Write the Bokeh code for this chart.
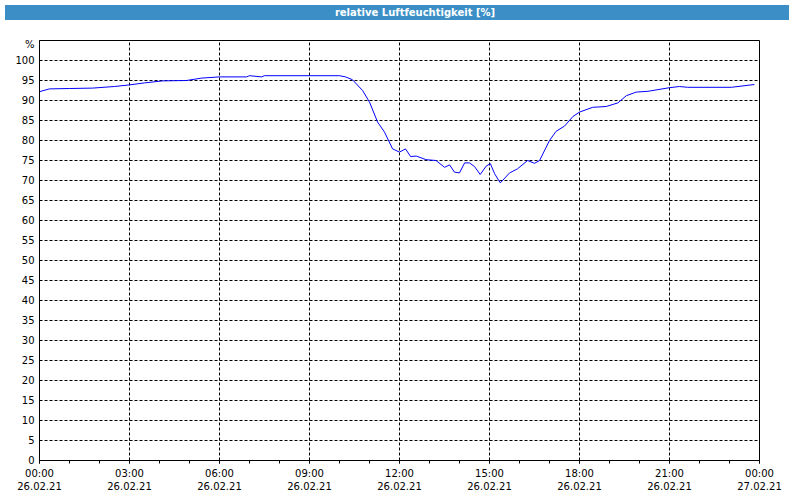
from bokeh.plotting import figure
from bokeh.models import FixedTicker, Div
from bokeh.layouts import column
from bokeh.embed import file_html
from bokeh.resources import INLINE

title_text = "relative Luftfeuchtigkeit [%]"

hours = [0.0, 0.33, 1.0, 1.77, 2.5, 3.0, 3.5, 4.1, 4.9, 5.4, 6.0, 6.9, 7.0, 7.4, 7.5,
         10.0, 10.2, 10.43, 10.77, 11.0, 11.27, 11.5, 11.77, 12.0, 12.2, 12.37, 12.56,
         12.89, 13.22, 13.5, 13.67, 13.83, 14.0, 14.17, 14.33, 14.5, 14.69, 14.89, 15.03,
         15.17, 15.36, 15.67, 15.93, 16.27, 16.5, 16.67, 17.0, 17.22, 17.5, 17.78, 18.0,
         18.44, 18.89, 19.28, 19.56, 19.89, 20.28, 21.0, 21.33, 21.6, 23.06, 23.83]
humidity = [92.2, 92.9, 93.0, 93.1, 93.5, 93.9, 94.4, 94.9, 95.0, 95.6, 95.9, 95.9, 96.2, 95.9, 96.2,
            96.2, 95.9, 95.2, 92.5, 89.6, 84.6, 82.1, 77.9, 77.1, 77.9, 76.0, 76.1,
            75.2, 75.0, 73.3, 73.9, 72.1, 71.9, 74.4, 74.4, 73.5, 71.5, 73.6, 74.2,
            71.7, 69.4, 71.9, 72.9, 75.0, 74.3, 75.0, 80.0, 82.3, 83.6, 86.0, 87.1,
            88.3, 88.5, 89.4, 91.2, 92.1, 92.3, 93.2, 93.5, 93.3, 93.3, 94.0]

x_ticks = [0, 3, 6, 9, 12, 15, 18, 21, 24]
x_tick_labels = ["00:00\n26.02.21", "03:00\n26.02.21", "06:00\n26.02.21", "09:00\n26.02.21",
                 "12:00\n26.02.21", "15:00\n26.02.21", "18:00\n26.02.21", "21:00\n26.02.21",
                 "00:00\n27.02.21"]
y_ticks = list(range(0, 101, 5))
unit_label = "%"

FONT = "DejaVu Sans"
BLUE_BAR = "#3c8fc6"

header = Div(text=title_text, width=784, height=15,
             styles={"background-color": BLUE_BAR, "color": "white", "font-weight": "bold",
                     "font-family": FONT, "font-size": "10px", "text-align": "center",
                     "line-height": "15px", "width": "784px", "padding-left": "36px",
                     "box-sizing": "border-box"})

p = figure(frame_width=720, frame_height=420, x_range=(0, 24), y_range=(0, 105),
           output_backend="svg", toolbar_location=None,
           min_border_left=39, min_border_right=25, min_border_top=15, min_border_bottom=0,
           background_fill_color="white", border_fill_color="white")

p.line(hours, humidity, line_color="#0000ff", line_width=1)

p.outline_line_color = "black"
p.outline_line_alpha = 1
p.outline_line_width = 1

# x axis
p.xaxis.ticker = FixedTicker(ticks=x_ticks, minor_ticks=list(range(0, 25)))
p.xaxis.major_label_overrides = {t: lab for t, lab in zip(x_ticks, x_tick_labels)}
p.xaxis.major_tick_out = 3
p.xaxis.major_tick_in = 0
p.xaxis.minor_tick_out = 3
p.xaxis.minor_tick_in = 0
p.xaxis.major_label_standoff = 4
p.xaxis.axis_line_color = "black"
p.xaxis.major_tick_line_color = "black"
p.xaxis.minor_tick_line_color = "black"

# y axis
p.yaxis.ticker = FixedTicker(ticks=y_ticks + [104])
p.yaxis.major_label_overrides = {104: unit_label}
p.yaxis.major_tick_out = 0
p.yaxis.major_tick_in = 0
p.yaxis.minor_tick_line_color = None
p.yaxis.major_label_standoff = 5
p.yaxis.axis_line_color = "black"

for ax in (p.xaxis[0], p.yaxis[0]):
    ax.major_label_text_font = FONT
    ax.major_label_text_font_size = "10px"
    ax.major_label_text_color = "black"

# grids
p.xgrid.ticker = FixedTicker(ticks=x_ticks)
p.ygrid.ticker = FixedTicker(ticks=y_ticks)
for g in (p.xgrid[0], p.ygrid[0]):
    g.grid_line_color = "black"
    g.grid_line_dash = "3 2"
    g.grid_line_width = 1
    g.grid_line_alpha = 1

layout = column(header, p, spacing=0)
open("out.html", "w").write(file_html(layout, INLINE))
